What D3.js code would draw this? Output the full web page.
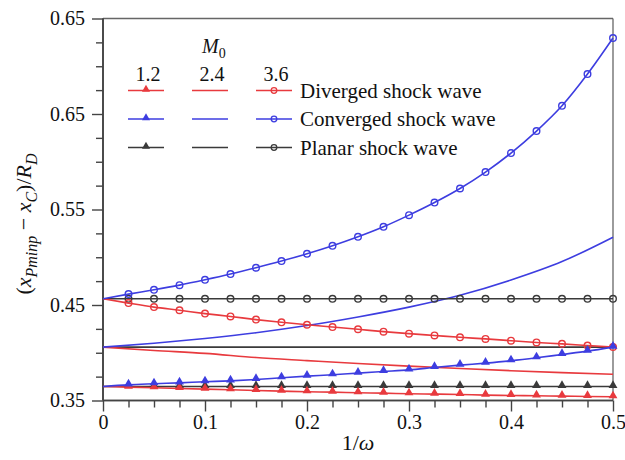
<!DOCTYPE html>
<html>
<head>
<meta charset="utf-8">
<script src="https://cdn.jsdelivr.net/npm/d3@7"></script>
<style>
  html, body { margin: 0; padding: 0; background: #fff; }
  svg { display: block; }
</style>
</head>
<body>
<svg id="chart" width="625" height="460"></svg>
<script>
// ---------------- data ----------------
const xFine = [0, 0.025, 0.05, 0.075, 0.1, 0.125, 0.15, 0.175, 0.2, 0.225, 0.25,
               0.275, 0.3, 0.325, 0.35, 0.375, 0.4, 0.425, 0.45, 0.475, 0.5];
const xCoarse = [0, 0.05, 0.1, 0.15, 0.2, 0.25, 0.3, 0.35, 0.4, 0.45, 0.5];

// M0 = 1.2 (triangles)
const diverged12 = [0.3647, 0.3640, 0.3633, 0.3626, 0.3619, 0.3612, 0.3605, 0.3598, 0.3591, 0.3588, 0.3581,
                    0.3577, 0.3570, 0.3567, 0.3563, 0.3556, 0.3553, 0.3549, 0.3546, 0.3542, 0.3539];
const converged12 = [0.3647, 0.3664, 0.3675, 0.3685, 0.3696, 0.3706, 0.3720, 0.3738, 0.3755, 0.3769, 0.3787,
                     0.3804, 0.3821, 0.3846, 0.3870, 0.3891, 0.3916, 0.3947, 0.3982, 0.4017, 0.4059];
const planar12 = [0.3647, 0.3647, 0.3647, 0.3647, 0.3647, 0.3647, 0.3647, 0.3647, 0.3647, 0.3647, 0.3647,
                  0.3647, 0.3647, 0.3647, 0.3647, 0.3647, 0.3647, 0.3647, 0.3647, 0.3647, 0.3647];
// M0 = 2.4 (plain lines)
const diverged24 = [0.4059, 0.4024, 0.3993, 0.3950, 0.3918, 0.3887, 0.3860, 0.3835, 0.3812, 0.3792, 0.3775];
const converged24 = [0.4059, 0.4100, 0.4150, 0.4210, 0.4285, 0.4375, 0.4478, 0.4602, 0.4762, 0.4955, 0.5210];
const planar24 = [0.4059, 0.4059, 0.4059, 0.4059, 0.4059, 0.4059, 0.4059, 0.4059, 0.4059, 0.4059, 0.4059];
// M0 = 3.6 (circles)
const diverged36 = [0.4565, 0.4520, 0.4478, 0.4445, 0.4410, 0.4380, 0.4347, 0.4319, 0.4293, 0.4269, 0.4246,
                    0.4221, 0.4200, 0.4181, 0.4162, 0.4145, 0.4126, 0.4108, 0.4093, 0.4076, 0.4059];
const converged36 = [0.4565, 0.4614, 0.4659, 0.4708, 0.4764, 0.4824, 0.4890, 0.4960, 0.5036, 0.5120, 0.5214,
                     0.5319, 0.5441, 0.5573, 0.5720, 0.5892, 0.6091, 0.6321, 0.6586, 0.6918, 0.7295];
const planar36 = [0.4565, 0.4565, 0.4565, 0.4565, 0.4565, 0.4565, 0.4565, 0.4565, 0.4565, 0.4565, 0.4565,
                  0.4565, 0.4565, 0.4565, 0.4565, 0.4565, 0.4565, 0.4565, 0.4565, 0.4565, 0.4565];

const machLabels = ["1.2", "2.4", "3.6"];
const waveLabels = ["Diverged shock wave", "Converged shock wave", "Planar shock wave"];

const xTickValues = [0, 0.1, 0.2, 0.3, 0.4, 0.5];
const xTickLabels = ["0", "0.1", "0.2", "0.3", "0.4", "0.5"];
const yTickValues = [0.35, 0.45, 0.55, 0.65, 0.75];
const yTickLabels = ["0.35", "0.45", "0.55", "0.65", "0.65"];
const xMinorTicks = [0.025, 0.05, 0.075, 0.125, 0.15, 0.175, 0.225, 0.25, 0.275, 0.325, 0.35, 0.375,
                     0.425, 0.45, 0.475];
const yMinorTicks = [0.375, 0.4, 0.425, 0.475, 0.5, 0.525, 0.575, 0.6, 0.625, 0.675, 0.7, 0.725];

// ---------------- styles ----------------
const RED = "#e83a3e", BLUE = "#3d3de0", BLACK = "#3a3a3a";
const colors = [RED, BLUE, BLACK];
const FONT = "'Liberation Serif', 'Times New Roman', Times, 'DejaVu Serif', serif";

// ---------------- layout ----------------
const svg = d3.select("#chart").style("font-family", FONT);
const L = 103, R = 613, T = 18.5, B = 400.5;
const x = d3.scaleLinear().domain([0, 0.5]).range([L, R]);
const y = d3.scaleLinear().domain([0.35, 0.75]).range([B, T]);

// frame
const axisColor = "#444";
svg.append("line").attr("x1", L).attr("x2", R).attr("y1", T).attr("y2", T)
  .attr("stroke", "#666").attr("stroke-width", 1.3);
svg.append("line").attr("x1", R).attr("x2", R).attr("y1", T).attr("y2", B)
  .attr("stroke", "#666").attr("stroke-width", 1.3);

// axes: minor
const xMinor = svg.append("g").attr("transform", `translate(0,${B})`)
  .call(d3.axisBottom(x).tickValues(xMinorTicks).tickSize(7).tickFormat(""));
const yMinor = svg.append("g").attr("transform", `translate(${L},0)`)
  .call(d3.axisLeft(y).tickValues(yMinorTicks).tickSize(7).tickFormat(""));
// axes: major
const xAxis = svg.append("g").attr("transform", `translate(0,${B})`)
  .call(d3.axisBottom(x).tickValues(xTickValues).tickSize(11).tickPadding(3)
    .tickFormat((d, i) => xTickLabels[i]));
const yAxis = svg.append("g").attr("transform", `translate(${L},0)`)
  .call(d3.axisLeft(y).tickValues(yTickValues).tickSize(11).tickPadding(7)
    .tickFormat((d, i) => yTickLabels[i]));

[xMinor, yMinor, xAxis, yAxis].forEach(g => {
  g.attr("font-family", null).attr("font-size", null);
  g.select(".domain").attr("stroke", axisColor).attr("stroke-width", 1.6);
  g.selectAll(".tick line").attr("stroke", axisColor).attr("stroke-width", 1.4);
  g.selectAll("text").style("font-size", "20px").style("font-family", FONT).attr("fill", "#111");
});
xMinor.select(".domain").attr("d", `M${L},0H${R}`);
xAxis.select(".domain").attr("d", `M${L},0H${R}`);
yMinor.select(".domain").attr("d", `M0,${B}V${T}`);
yAxis.select(".domain").attr("d", `M0,${B}V${T}`);

function txt(sel) { return sel.style("font-family", FONT).attr("fill", "#111"); }

// axis titles
const xt = txt(svg.append("text")).attr("x", (L + R) / 2).attr("y", 450)
  .attr("text-anchor", "middle").style("font-size", "22px");
xt.append("tspan").text("1/");
xt.append("tspan").style("font-style", "italic").text("ω");

const yt = txt(svg.append("text")).attr("transform", "translate(31,224) rotate(-90)")
  .attr("text-anchor", "middle").style("font-size", "22px");
yt.append("tspan").text("(");
yt.append("tspan").style("font-style", "italic").text("x");
yt.append("tspan").style("font-style", "italic").style("font-size", "16px").attr("dy", 6).text("Pminp");
yt.append("tspan").attr("dy", -6).text(" − ");
yt.append("tspan").style("font-style", "italic").text("x");
yt.append("tspan").style("font-style", "italic").style("font-size", "16px").attr("dy", 6).text("C");
yt.append("tspan").attr("dy", -6).text(")/");
yt.append("tspan").style("font-style", "italic").text("R");
yt.append("tspan").style("font-style", "italic").style("font-size", "16px").attr("dy", 6).text("D");

// ---------------- series ----------------
const plot = svg.append("g");
const series = [
  { xs: xCoarse, ys: planar24, color: BLACK, marker: null },
  { xs: xCoarse, ys: diverged24, color: RED, marker: null },
  { xs: xCoarse, ys: converged24, color: BLUE, marker: null },
  { xs: xFine, ys: planar36, color: BLACK, marker: "circle" },
  { xs: xFine, ys: diverged36, color: RED, marker: "circle" },
  { xs: xFine, ys: converged36, color: BLUE, marker: "circle" },
  { xs: xFine, ys: planar12, color: BLACK, marker: "triangle" },
  { xs: xFine, ys: diverged12, color: RED, marker: "triangle" },
  { xs: xFine, ys: converged12, color: BLUE, marker: "triangle" }
];

const line = d3.line().x(d => x(d[0])).y(d => y(d[1])).curve(d3.curveMonotoneX);
const triSym = d3.symbol().type(d3.symbolTriangle).size(34);
const triSymSmall = d3.symbol().type(d3.symbolTriangle).size(28);

series.forEach(s => {
  const pts = s.xs.map((xv, i) => [xv, s.ys[i]]);
  plot.append("path").datum(pts).attr("d", line)
    .attr("fill", "none").attr("stroke", s.color).attr("stroke-width", 1.6);
  const mk = pts.slice(1);
  if (s.marker === "circle") {
    plot.selectAll(null).data(mk).enter().append("circle")
      .attr("cx", d => x(d[0])).attr("cy", d => y(d[1])).attr("r", 3.3)
      .attr("fill", "none").attr("stroke", s.color).attr("stroke-width", 1.4);
  } else if (s.marker === "triangle") {
    plot.selectAll(null).data(mk).enter().append("path")
      .attr("d", triSym)
      .attr("transform", d => `translate(${x(d[0])},${y(d[1]) - 1})`)
      .attr("fill", s.color);
  }
});

// ---------------- legend ----------------
const lg = svg.append("g");
const mt = txt(lg.append("text")).attr("x", 202).attr("y", 53).style("font-size", "20px").style("font-style", "italic");
mt.append("tspan").text("M");
mt.append("tspan").style("font-size", "14px").style("font-style", "normal").attr("dy", 5).text("0");

const colCenters = [146, 210, 274];
const rowYs = [90.5, 119, 147.5];
machLabels.forEach((m, i) => {
  txt(lg.append("text")).attr("x", colCenters[i] + 2).attr("y", 81).attr("text-anchor", "middle")
    .style("font-size", "20px").text(m);
});
waveLabels.forEach((w, r) => {
  const c = colors[r];
  colCenters.forEach((cx, ci) => {
    lg.append("line").attr("x1", cx - 18).attr("x2", cx + 18).attr("y1", rowYs[r]).attr("y2", rowYs[r])
      .attr("stroke", c).attr("stroke-width", 1.6);
    if (ci === 0) {
      lg.append("path").attr("d", triSymSmall)
        .attr("transform", `translate(${cx},${rowYs[r] - 1})`).attr("fill", c);
    } else if (ci === 2) {
      lg.append("circle").attr("cx", cx).attr("cy", rowYs[r]).attr("r", 2.8)
        .attr("fill", "none").attr("stroke", c).attr("stroke-width", 1.3);
    }
  });
  txt(lg.append("text")).attr("x", 300).attr("y", rowYs[r] + 7).style("font-size", "21px").text(w);
});
</script>
</body>
</html>
